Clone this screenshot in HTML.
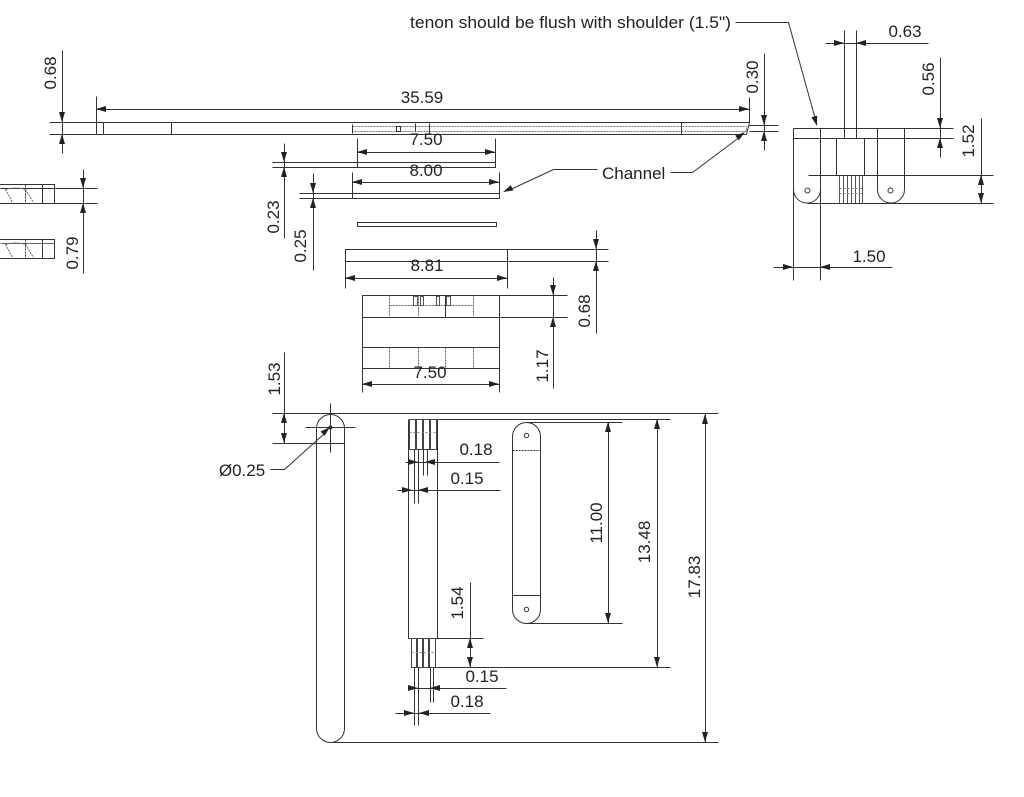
<!DOCTYPE html>
<html><head><meta charset="utf-8">
<style>
html,body{margin:0;padding:0;background:#fff;}
svg{display:block;}
text{font-family:"Liberation Sans",Arial,sans-serif;font-size:17px;fill:#222;}
</style></head>
<body>
<svg width="1024" height="797" viewBox="0 0 1024 797" xmlns="http://www.w3.org/2000/svg">
<g transform="translate(0.5,0.5)" stroke="#333" stroke-width="1" fill="none">
<!-- ===== Top beam ===== -->
<line x1="49" y1="122" x2="749" y2="122"/>
<line x1="49" y1="134" x2="746" y2="134"/>
<line x1="96" y1="96" x2="96" y2="134"/>
<line x1="103" y1="122" x2="103" y2="134"/>
<line x1="171" y1="122" x2="171" y2="134"/>
<line x1="681" y1="122" x2="681" y2="134"/>
<line x1="749" y1="97" x2="749" y2="122"/>
<line x1="749" y1="122" x2="746" y2="134"/>
<rect x="352" y="126" width="394" height="5" stroke="#777" stroke-dasharray="2,1"/>
<line x1="352" y1="124" x2="352" y2="133"/>
<rect x="396" y="126" width="4" height="5"/>
<line x1="415" y1="123" x2="415" y2="131"/>
<line x1="429" y1="123" x2="429" y2="133"/>
<!-- 35.59 -->
<line x1="96" y1="109" x2="749" y2="109"/>
<!-- 0.68 left -->
<line x1="62" y1="50" x2="62" y2="153"/>
<!-- 0.30 -->
<line x1="764" y1="53" x2="764" y2="150"/>
<line x1="749" y1="125" x2="778" y2="125"/>
<line x1="749" y1="131" x2="778" y2="131"/>

<!-- ===== left pieces ===== -->
<rect x="-1" y="184" width="55" height="19"/>
<line x1="0" y1="188" x2="97" y2="188"/>
<line x1="54" y1="203" x2="97" y2="203"/>
<line x1="25" y1="184" x2="25" y2="203" stroke-dasharray="2,1"/>
<line x1="42" y1="184" x2="42" y2="203"/>
<path d="M5,189 Q15,186 25,189 M5,189 L12,202 M25,189 L33,202" stroke="#666" stroke-dasharray="2,1"/>
<rect x="-1" y="239" width="55" height="19"/>
<line x1="0" y1="243" x2="54" y2="243" stroke="#666"/>
<line x1="25" y1="239" x2="25" y2="258" stroke-dasharray="2,1"/>
<line x1="42" y1="239" x2="42" y2="258"/>
<path d="M5,244 Q15,241 25,244 M5,244 L12,257 M25,244 L33,257" stroke="#666" stroke-dasharray="2,1"/>
<!-- 0.79 -->
<line x1="83" y1="169" x2="83" y2="273"/>

<!-- ===== channel pieces ===== -->
<rect x="357" y="162" width="138" height="5"/>
<line x1="272" y1="162" x2="357" y2="162"/>
<line x1="272" y1="167" x2="357" y2="167"/>
<line x1="284" y1="143" x2="284" y2="238"/>
<rect x="352" y="193" width="147" height="5"/>
<line x1="299" y1="193" x2="352" y2="193"/>
<line x1="299" y1="198" x2="352" y2="198"/>
<line x1="313" y1="173" x2="313" y2="270"/>
<rect x="357" y="222" width="139" height="4"/>
<!-- 7.50 upper -->
<line x1="357" y1="138" x2="357" y2="162"/>
<line x1="495" y1="138" x2="495" y2="162"/>
<line x1="357" y1="152" x2="495" y2="152"/>
<!-- 8.00 -->
<line x1="352" y1="172" x2="352" y2="193"/>
<line x1="499" y1="172" x2="499" y2="193"/>
<line x1="352" y1="182" x2="499" y2="182"/>
<!-- Channel leaders -->
<polyline points="597,169 553,169 510,189"/>
<polyline points="670,172 692,172 740,136"/>
<!-- tenon leader -->
<polyline points="735,22 788,22 815,119"/>

<!-- ===== Right view ===== -->
<line x1="793" y1="128" x2="953" y2="128"/>
<line x1="793" y1="138" x2="953" y2="138"/>
<line x1="793" y1="128" x2="793" y2="280"/>
<line x1="820" y1="128" x2="820" y2="280"/>
<path d="M793,189 A13.5,13.5 0 0 0 820,189"/>
<line x1="877" y1="128" x2="877" y2="189"/>
<line x1="904" y1="128" x2="904" y2="189"/>
<path d="M877,189 A13.5,13.5 0 0 0 904,189"/>
<circle cx="807" cy="190" r="2.5"/>
<circle cx="890" cy="190" r="2.5"/>
<rect x="836" y="138" width="28" height="37"/>
<line x1="844" y1="30" x2="844" y2="138"/>
<line x1="856" y1="30" x2="856" y2="138"/>
<g stroke="#555">
<line x1="839" y1="175" x2="839" y2="203"/><line x1="843" y1="175" x2="843" y2="203"/>
<line x1="847" y1="175" x2="847" y2="203"/><line x1="851" y1="175" x2="851" y2="203"/>
<line x1="855" y1="175" x2="855" y2="203"/><line x1="859" y1="175" x2="859" y2="203"/>
<line x1="862" y1="175" x2="862" y2="203"/>
</g>
<line x1="839" y1="188" x2="862" y2="188" stroke="#888" stroke-dasharray="2,2"/>
<line x1="839" y1="193" x2="862" y2="193" stroke="#888" stroke-dasharray="2,2"/>
<line x1="808" y1="175" x2="993" y2="175"/>
<line x1="807" y1="203" x2="993" y2="203"/>
<!-- 0.63 -->
<line x1="825" y1="43" x2="928" y2="43"/>
<!-- 0.56 -->
<line x1="940" y1="57" x2="940" y2="157"/>
<!-- 1.52 -->
<line x1="981" y1="118" x2="981" y2="203"/>
<!-- 1.50 -->
<line x1="773" y1="267" x2="892" y2="267"/>

<!-- ===== Middle ===== -->
<rect x="345" y="249" width="162" height="12"/>
<line x1="507" y1="249" x2="608" y2="249"/>
<line x1="507" y1="261" x2="608" y2="261"/>
<line x1="345" y1="261" x2="345" y2="288"/>
<line x1="507" y1="261" x2="507" y2="288"/>
<line x1="345" y1="278" x2="507" y2="278"/>
<line x1="596" y1="230" x2="596" y2="333"/>
<!-- clamp box -->
<rect x="362" y="295" width="137" height="73"/>
<line x1="362" y1="317" x2="499" y2="317"/>
<line x1="362" y1="347" x2="499" y2="347"/>
<line x1="499" y1="295" x2="567" y2="295"/>
<line x1="499" y1="317" x2="567" y2="317"/>
<g stroke="#666" stroke-dasharray="2,1">
<line x1="389" y1="295" x2="389" y2="317"/><line x1="418" y1="295" x2="418" y2="317"/>
<line x1="473" y1="295" x2="473" y2="317"/>
<line x1="389" y1="305" x2="473" y2="305"/>
<line x1="389" y1="347" x2="389" y2="368"/><line x1="418" y1="347" x2="418" y2="368"/>
<line x1="445" y1="347" x2="445" y2="368"/><line x1="473" y1="347" x2="473" y2="368"/>
</g>
<line x1="445" y1="295" x2="445" y2="317"/>
<rect x="413" y="296" width="4" height="9" stroke="#555"/>
<rect x="420" y="296" width="3" height="9" stroke="#555"/>
<rect x="436" y="296" width="3" height="9" stroke="#555"/>
<rect x="446" y="296" width="4" height="9" stroke="#555"/>
<line x1="553" y1="277" x2="553" y2="388"/>
<line x1="362" y1="368" x2="362" y2="392"/>
<line x1="499" y1="368" x2="499" y2="392"/>
<line x1="362" y1="384" x2="499" y2="384"/>

<!-- ===== Bottom ===== -->
<line x1="272" y1="413" x2="718" y2="413"/>
<line x1="272" y1="443" x2="344" y2="443"/>
<line x1="284" y1="352" x2="284" y2="443"/>
<rect x="316" y="414" width="28" height="328" rx="14" ry="14"/>
<line x1="305" y1="427" x2="355" y2="427"/>
<line x1="330" y1="403" x2="330" y2="452"/>
<circle cx="330" cy="427" r="1.5" fill="#333"/>
<polyline points="270,469 284,469 324,433"/>
<line x1="330" y1="742" x2="718" y2="742"/>
<line x1="705" y1="414" x2="705" y2="742"/>
<line x1="437" y1="419" x2="670" y2="419"/>
<line x1="428" y1="667" x2="670" y2="667"/>
<line x1="657" y1="419" x2="657" y2="667"/>
<line x1="526" y1="422" x2="622" y2="422"/>
<line x1="526" y1="623" x2="622" y2="623"/>
<line x1="608" y1="422" x2="608" y2="623"/>
<!-- right slat -->
<rect x="512" y="422" width="28" height="201" rx="14" ry="14"/>
<circle cx="526" cy="435" r="2.2"/>
<circle cx="526" cy="609" r="2.2"/>
<line x1="512" y1="450" x2="540" y2="450" stroke-dasharray="2,1"/>
<line x1="512" y1="595" x2="540" y2="595"/>
<!-- middle slat -->
<line x1="408" y1="419" x2="408" y2="638"/>
<line x1="437" y1="419" x2="437" y2="638"/>
<line x1="408" y1="638" x2="483" y2="638"/>
<g stroke="#444">
<rect x="409" y="419" width="6" height="30"/>
<rect x="416" y="419" width="6" height="30"/>
<rect x="423" y="419" width="6" height="30"/>
<rect x="430" y="419" width="6" height="30"/>
<rect x="411" y="638" width="5" height="29"/>
<rect x="417" y="638" width="5" height="29"/>
<rect x="423" y="638" width="5" height="29"/>
<rect x="429" y="638" width="6" height="29"/>
</g>
<line x1="409" y1="432" x2="436" y2="432" stroke="#888" stroke-dasharray="2,2"/>
<line x1="411" y1="652" x2="435" y2="652" stroke="#888" stroke-dasharray="2,2"/>
<line x1="414" y1="449" x2="414" y2="503"/>
<line x1="418" y1="449" x2="418" y2="503"/>
<line x1="423" y1="449" x2="423" y2="475"/>
<line x1="427" y1="449" x2="427" y2="475"/>
<line x1="414" y1="667" x2="414" y2="725"/>
<line x1="418" y1="667" x2="418" y2="725"/>
<line x1="430" y1="667" x2="430" y2="702"/>
<line x1="433" y1="667" x2="433" y2="702"/>
<line x1="405" y1="462" x2="499" y2="462"/>
<line x1="397" y1="490" x2="500" y2="490"/>
<line x1="470" y1="582" x2="470" y2="667"/>
<line x1="411" y1="688" x2="506" y2="688"/>
<line x1="395" y1="713" x2="490" y2="713"/>
</g>

<!-- arrowheads -->
<g fill="#222" stroke="none">
<polygon points="96,109 106,106 106,112"/><polygon points="749,109 739,106 739,112"/>
<polygon points="62,122 59,112 65,112"/><polygon points="62,134 59,144 65,144"/>
<polygon points="83,188 80,178 86,178"/><polygon points="83,203 80,213 86,213"/>
<polygon points="284,162 281,152 287,152"/><polygon points="284,167 281,177 287,177"/>
<polygon points="313,193 310,183 316,183"/><polygon points="313,198 310,208 316,208"/>
<polygon points="357,152 367,149 367,155"/><polygon points="495,152 485,149 485,155"/>
<polygon points="352,182 362,179 362,185"/><polygon points="499,182 489,179 489,185"/>
<polygon points="503,192 513.3,190.5 510.8,185.1"/>
<polygon points="745,132 738.8,140.4 735.2,135.6"/>
<polygon points="764,125 761,115 767,115"/><polygon points="764,131 761,141 767,141"/>
<polygon points="817,126 817.2,115.6 811.4,117.2"/>
<polygon points="844,43 834,40 834,46"/><polygon points="856,43 866,40 866,46"/>
<polygon points="940,128 937,118 943,118"/><polygon points="940,138 937,148 943,148"/>
<polygon points="981,175 978,185 984,185"/><polygon points="981,203 978,193 984,193"/>
<polygon points="793,267 783,264 783,270"/><polygon points="820,267 830,264 830,270"/>
<polygon points="345,278 355,275 355,281"/><polygon points="507,278 497,275 497,281"/>
<polygon points="596,249 593,239 599,239"/><polygon points="596,261 593,271 599,271"/>
<polygon points="553,295 550,285 556,285"/><polygon points="553,317 550,327 556,327"/>
<polygon points="362,384 372,381 372,387"/><polygon points="499,384 489,381 489,387"/>
<polygon points="284,413 281,423 287,423"/><polygon points="284,443 281,433 287,433"/>
<polygon points="330,427 324.6,435.9 320.6,431.5"/>
<polygon points="705,414 702,424 708,424"/><polygon points="705,742 702,732 708,732"/>
<polygon points="657,419 654,429 660,429"/><polygon points="657,667 654,657 660,657"/>
<polygon points="608,422 605,432 611,432"/><polygon points="608,623 605,613 611,613"/>
<polygon points="418,462 408,459 408,465"/><polygon points="425,462 435,459 435,465"/>
<polygon points="412,490 402,487 402,493"/><polygon points="418,490 428,487 428,493"/>
<polygon points="470,638 467,648 473,648"/><polygon points="470,667 467,657 473,657"/>
<polygon points="418,688 408,685 408,691"/><polygon points="430,688 440,685 440,691"/>
<polygon points="414,713 404,710 404,716"/><polygon points="419,713 429,710 429,716"/>
</g>

<!-- text -->
<text x="410" y="28" textLength="321" lengthAdjust="spacingAndGlyphs">tenon should be flush with shoulder (1.5")</text>
<text x="422" y="103" text-anchor="middle">35.59</text>
<text x="426" y="145" text-anchor="middle">7.50</text>
<text x="426" y="176" text-anchor="middle">8.00</text>
<text x="602" y="179">Channel</text>
<text x="905" y="37" text-anchor="middle">0.63</text>
<text x="869" y="262" text-anchor="middle">1.50</text>
<text x="427" y="271" text-anchor="middle">8.81</text>
<text x="430" y="378" text-anchor="middle">7.50</text>
<text x="242" y="476" text-anchor="middle">Ø0.25</text>
<text x="476" y="455" text-anchor="middle">0.18</text>
<text x="467" y="484" text-anchor="middle">0.15</text>
<text x="482" y="682" text-anchor="middle">0.15</text>
<text x="467" y="707" text-anchor="middle">0.18</text>
<text transform="translate(56,73) rotate(-90)" text-anchor="middle">0.68</text>
<text transform="translate(78,253) rotate(-90)" text-anchor="middle">0.79</text>
<text transform="translate(279,217) rotate(-90)" text-anchor="middle">0.23</text>
<text transform="translate(306,246) rotate(-90)" text-anchor="middle">0.25</text>
<text transform="translate(758,77) rotate(-90)" text-anchor="middle">0.30</text>
<text transform="translate(934,79) rotate(-90)" text-anchor="middle">0.56</text>
<text transform="translate(974,141) rotate(-90)" text-anchor="middle">1.52</text>
<text transform="translate(590,311) rotate(-90)" text-anchor="middle">0.68</text>
<text transform="translate(548,366) rotate(-90)" text-anchor="middle">1.17</text>
<text transform="translate(280,379) rotate(-90)" text-anchor="middle">1.53</text>
<text transform="translate(463,603) rotate(-90)" text-anchor="middle">1.54</text>
<text transform="translate(602,523) rotate(-90)" text-anchor="middle">11.00</text>
<text transform="translate(650,542) rotate(-90)" text-anchor="middle">13.48</text>
<text transform="translate(700,577) rotate(-90)" text-anchor="middle">17.83</text>
</svg>
</body></html>
